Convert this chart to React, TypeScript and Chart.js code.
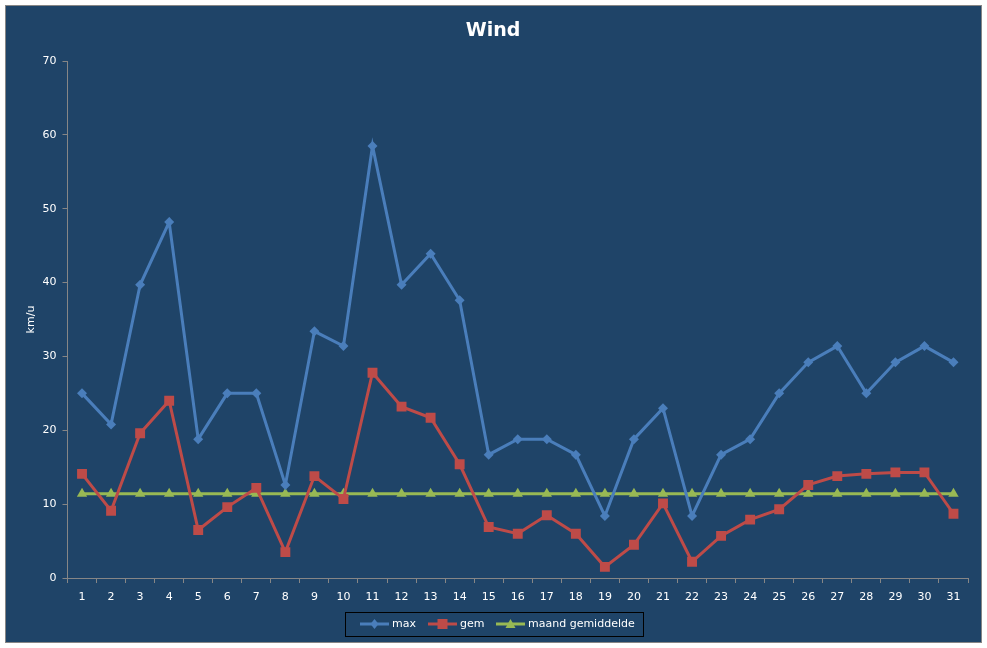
import React, { useEffect, useRef } from "react";
import { Chart, registerables } from "chart.js";

Chart.register(...registerables);

const days = Array.from({ length: 31 }, (_, i) => String(i + 1));
const maxWind = [25.0, 20.8, 39.7, 48.2, 18.8, 25.0, 25.0, 12.6, 33.4, 31.4, 58.5, 39.7, 43.9, 37.6, 16.7, 18.8, 18.8, 16.7, 8.4, 18.8, 23.0, 8.4, 16.7, 18.8, 25.0, 29.2, 31.4, 25.0, 29.2, 31.4, 29.2];
const gemWind = [14.1, 9.1, 19.6, 24.0, 6.5, 9.6, 12.2, 3.5, 13.8, 10.7, 27.8, 23.2, 21.7, 15.4, 6.9, 6.0, 8.5, 6.0, 1.5, 4.5, 10.1, 2.2, 5.7, 7.9, 9.3, 12.6, 13.8, 14.1, 14.3, 14.3, 8.7];
const maandGem = Array.from({ length: 31 }, () => 11.4);
const seriesNames = ["max", "gem", "maand gemiddelde"];
const yTicks = [0, 10, 20, 30, 40, 50, 60, 70];

const BG = "#1F4468";
const AXIS = "#868686";
const FONT = "'DejaVu Sans', Verdana, sans-serif";

const frame = {
  id: "frame",
  beforeDraw(chart: any) {
    const { ctx, width, height } = chart;
    ctx.save();
    ctx.fillStyle = "#ffffff";
    ctx.fillRect(0, 0, width, height);
    ctx.fillStyle = BG;
    ctx.fillRect(5, 5, 977, 638);
    ctx.strokeStyle = AXIS;
    ctx.lineWidth = 1;
    ctx.strokeRect(5.5, 5.5, 976, 637);
    ctx.fillStyle = "#ffffff";
    ctx.font = `bold 19px ${FONT}`;
    ctx.textAlign = "center";
    ctx.textBaseline = "middle";
    ctx.fillText("Wind", 493, 31);
    ctx.restore();
  },
  afterDraw(chart: any) {
    const { ctx } = chart;
    ctx.save();
    ctx.strokeStyle = "#000000";
    ctx.lineWidth = 1;
    ctx.strokeRect(345.5, 612.5, 298, 24);
    const starts = [360, 428, 496];
    const cy = 624;
    chart.data.datasets.forEach((ds: any, i: number) => {
      const x0 = starts[i];
      ctx.strokeStyle = ds.borderColor;
      ctx.lineWidth = 3;
      ctx.beginPath();
      ctx.moveTo(x0, cy);
      ctx.lineTo(x0 + 29, cy);
      ctx.stroke();
      ctx.fillStyle = ds.borderColor;
      const cx = x0 + 14.5;
      ctx.beginPath();
      if (ds.pointStyle === "rectRot") {
        ctx.moveTo(cx, cy - 5);
        ctx.lineTo(cx + 4, cy);
        ctx.lineTo(cx, cy + 5);
        ctx.lineTo(cx - 4, cy);
      } else if (ds.pointStyle === "rect") {
        ctx.rect(cx - 5, cy - 5, 10, 10);
      } else {
        ctx.moveTo(cx, cy - 5);
        ctx.lineTo(cx + 5, cy + 4);
        ctx.lineTo(cx - 5, cy + 4);
      }
      ctx.closePath();
      ctx.fill();
      ctx.fillStyle = "#ffffff";
      ctx.font = `11px ${FONT}`;
      ctx.textAlign = "left";
      ctx.textBaseline = "middle";
      ctx.fillText(ds.label, x0 + 32, cy);
    });
    ctx.restore();
  },
};

export default function App() {
  const ref = useRef<HTMLCanvasElement>(null);
  useEffect(() => {
    if (!ref.current) return;
    const chart = new Chart(ref.current, {
      type: "line",
      data: {
        labels: days,
        datasets: [
          {
            label: seriesNames[0],
            data: maxWind,
            borderColor: "#4A7EBB",
            backgroundColor: "#4A7EBB",
            borderWidth: 3,
            pointStyle: "rectRot",
            pointRadius: 5,
            pointBorderWidth: 0,
            tension: 0,
          },
          {
            label: seriesNames[1],
            data: gemWind,
            borderColor: "#BE4B48",
            backgroundColor: "#BE4B48",
            borderWidth: 3,
            pointStyle: "rect",
            pointRadius: 7,
            pointBorderWidth: 0,
            tension: 0,
          },
          {
            label: seriesNames[2],
            data: maandGem,
            borderColor: "#98B954",
            backgroundColor: "#98B954",
            borderWidth: 3,
            pointStyle: "triangle",
            pointRadius: 6,
            pointBorderWidth: 0,
            tension: 0,
          },
        ],
      },
      options: {
        animation: false,
        responsive: false,
        devicePixelRatio: 1,
        layout: { padding: { left: 0, top: 61, right: 19, bottom: 0 } },
        plugins: {
          legend: { display: false },
          title: { display: false },
          tooltip: { enabled: false },
        },
        scales: {
          x: {
            type: "category",
            offset: true,
            grid: {
              offset: true,
              drawOnChartArea: false,
              drawTicks: true,
              tickLength: 5,
              color: AXIS,
            },
            border: { color: AXIS, width: 1 },
            ticks: {
              color: "#ffffff",
              font: { family: FONT, size: 11 },
              padding: 8,
              maxRotation: 0,
              autoSkip: false,
            },
            afterFit: (scale: any) => {
              scale.height = 70;
            },
          },
          y: {
            min: 0,
            max: 70,
            afterBuildTicks: (scale: any) => {
              scale.ticks = yTicks.map((v) => ({ value: v }));
            },
            grid: {
              drawOnChartArea: false,
              drawTicks: true,
              tickLength: 5,
              color: AXIS,
            },
            border: { color: AXIS, width: 1 },
            ticks: {
              color: "#ffffff",
              font: { family: FONT, size: 11 },
              padding: 6,
            },
            title: {
              display: true,
              text: "km/u",
              color: "#ffffff",
              font: { family: FONT, size: 11 },
              padding: { top: 25, bottom: 0 },
            },
            afterFit: (scale: any) => {
              scale.width = 67.5;
            },
          },
        },
      },
      plugins: [frame],
    });
    return () => chart.destroy();
  }, []);
  return (
    <div style={{ position: "fixed", left: 0, top: 0, width: 987, height: 648 }}>
      <canvas ref={ref} width={987} height={648} style={{ width: 987, height: 648, display: "block" }} />
    </div>
  );
}
